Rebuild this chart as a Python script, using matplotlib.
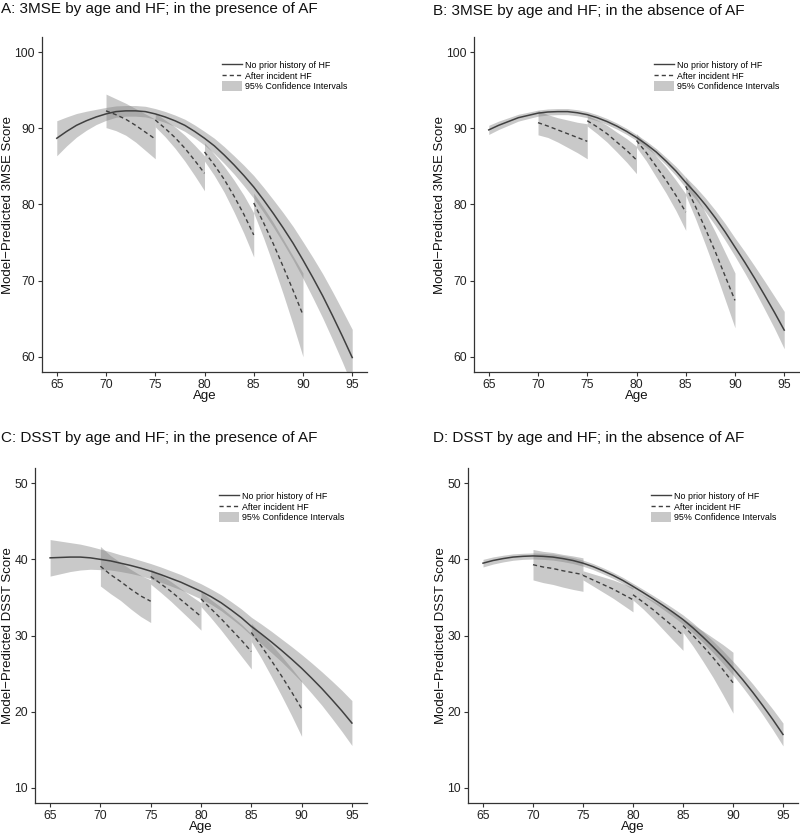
import matplotlib
matplotlib.use("Agg")
import matplotlib.pyplot as plt
from matplotlib.lines import Line2D
from matplotlib.patches import Patch

plt.rcParams["font.family"] = ["Liberation Sans", "DejaVu Sans"]

# ages (x) for the full curve and for each 5-year "after incident HF" segment
ages = list(range(65, 96))
seg_starts = [70, 75, 80, 85]

titles = [
    "A: 3MSE by age and HF; in the presence of AF",
    "B: 3MSE by age and HF; in the absence of AF",
    "C: DSST by age and HF; in the presence of AF",
    "D: DSST by age and HF; in the absence of AF",
]
ylabels = [
    "Model\u2212Predicted 3MSE Score",
    "Model\u2212Predicted 3MSE Score",
    "Model\u2212Predicted DSST Score",
    "Model\u2212Predicted DSST Score",
]
legend_labels = ["No prior history of HF", "After incident HF", "95% Confidence Intervals"]

# --- A: 3MSE, AF present ---
a_fit = [88.7, 89.6, 90.4, 91.0, 91.5, 91.9, 92.2, 92.3, 92.3, 92.2, 91.9,
         91.5, 91.0, 90.4, 89.6, 88.7, 87.7, 86.5, 85.2, 83.8, 82.3,
         80.6, 78.8, 76.9, 74.9, 72.7, 70.4, 68.0, 65.4, 62.7, 59.9]
a_half = [2.3, 1.9, 1.55, 1.25, 1.0, 0.85, 0.75, 0.7, 0.7, 0.7, 0.7,
          0.72, 0.75, 0.8, 0.85, 0.9, 1.0, 1.1, 1.2, 1.35, 1.5,
          1.65, 1.8, 2.0, 2.2, 2.4, 2.65, 2.9, 3.15, 3.4, 3.7]
a_seg_fit = [
    [92.3, 91.8, 91.2, 90.4, 89.5, 88.6],
    [91.1, 90.0, 88.8, 87.4, 85.8, 84.1],
    [86.9, 85.2, 83.3, 81.1, 78.7, 76.0],
    [80.2, 77.6, 74.8, 71.8, 68.7, 65.5],
]
a_seg_half = [
    [2.2, 2.1, 2.1, 2.2, 2.4, 2.6],
    [0.9, 1.1, 1.4, 1.7, 2.0, 2.3],
    [1.2, 1.4, 1.7, 2.1, 2.5, 2.9],
    [1.3, 2.0, 2.8, 3.6, 4.5, 5.5],
]

# --- B: 3MSE, AF absent ---
b_fit = [89.8, 90.4, 90.9, 91.4, 91.7, 92.0, 92.15, 92.2, 92.2, 92.05, 91.8,
         91.4, 90.9, 90.3, 89.6, 88.8, 87.9, 86.9, 85.7, 84.4, 82.9,
         81.5, 79.95, 78.25, 76.4, 74.4, 72.4, 70.3, 68.1, 65.85, 63.5]
b_half = [0.6, 0.55, 0.5, 0.45, 0.42, 0.4, 0.4, 0.4, 0.4, 0.4, 0.4,
          0.4, 0.4, 0.4, 0.4, 0.4, 0.42, 0.45, 0.5, 0.6, 0.7,
          0.8, 0.9, 1.0, 1.1, 1.2, 1.4, 1.6, 1.85, 2.1, 2.45]
b_seg_fit = [
    [90.75, 90.3, 89.8, 89.3, 88.8, 88.3],
    [91.0, 90.2, 89.3, 88.2, 87.1, 85.85],
    [88.4, 86.8, 85.0, 83.2, 81.2, 79.0],
    [82.4, 79.7, 76.8, 73.8, 70.6, 67.4],
]
b_seg_half = [
    [1.6, 1.5, 1.6, 1.8, 2.0, 2.3],
    [0.7, 0.9, 1.1, 1.3, 1.55, 1.8],
    [0.9, 1.1, 1.4, 1.7, 2.0, 2.4],
    [1.2, 1.6, 2.1, 2.6, 3.1, 3.6],
]

# --- C: DSST, AF present ---
c_fit = [40.2, 40.25, 40.3, 40.3, 40.2, 40.0, 39.8, 39.5, 39.2, 38.85, 38.45,
         38.0, 37.5, 37.0, 36.4, 35.8, 35.1, 34.3, 33.35, 32.35, 31.2,
         30.2, 29.15, 28.05, 26.9, 25.7, 24.4, 23.05, 21.6, 20.1, 18.5]
c_half = [2.4, 2.15, 1.9, 1.7, 1.5, 1.35, 1.2, 1.1, 1.05, 1.0, 1.0,
          1.0, 1.0, 1.0, 1.0, 1.0, 1.0, 1.05, 1.1, 1.15, 1.2,
          1.3, 1.4, 1.5, 1.65, 1.8, 2.0, 2.2, 2.45, 2.7, 2.95]
c_seg_fit = [
    [39.1, 38.0, 37.1, 36.1, 35.2, 34.5],
    [37.75, 36.8, 35.8, 34.7, 33.6, 32.5],
    [34.8, 33.5, 32.2, 30.8, 29.4, 27.9],
    [30.4, 28.6, 26.7, 24.7, 22.6, 20.4],
]
c_seg_half = [
    [2.6, 2.5, 2.5, 2.6, 2.7, 2.8],
    [1.0, 1.15, 1.3, 1.45, 1.6, 1.8],
    [1.0, 1.2, 1.5, 1.8, 2.1, 2.3],
    [1.2, 1.6, 2.1, 2.6, 3.1, 3.65],
]

# --- D: DSST, AF absent ---
d_fit = [39.5, 39.85, 40.1, 40.3, 40.4, 40.45, 40.4, 40.3, 40.1, 39.85, 39.5,
         39.05, 38.5, 37.9, 37.22, 36.45, 35.65, 34.82, 33.95, 33.05, 32.1,
         31.0, 29.8, 28.52, 27.16, 25.7, 24.15, 22.5, 20.75, 18.93, 17.0]
d_half = [0.5, 0.47, 0.44, 0.42, 0.4, 0.4, 0.4, 0.4, 0.4, 0.4, 0.4,
          0.4, 0.4, 0.4, 0.4, 0.4, 0.42, 0.45, 0.5, 0.55, 0.6,
          0.65, 0.7, 0.76, 0.83, 0.9, 1.0, 1.1, 1.2, 1.35, 1.5]
d_seg_fit = [
    [39.3, 39.0, 38.8, 38.5, 38.25, 38.0],
    [37.9, 37.3, 36.7, 36.1, 35.4, 34.7],
    [35.35, 34.4, 33.4, 32.3, 31.2, 30.05],
    [31.3, 30.0, 28.6, 27.1, 25.5, 23.8],
]
d_seg_half = [
    [2.0, 2.05, 2.1, 2.15, 2.2, 2.2],
    [0.6, 0.8, 1.0, 1.2, 1.4, 1.6],
    [0.7, 0.9, 1.2, 1.5, 1.8, 2.0],
    [0.9, 1.4, 2.0, 2.6, 3.3, 4.0],
]

panels = [
    (a_fit, a_half, a_seg_fit, a_seg_half),
    (b_fit, b_half, b_seg_fit, b_seg_half),
    (c_fit, c_half, c_seg_fit, c_seg_half),
    (d_fit, d_half, d_seg_fit, d_seg_half),
]
yticks_list = [[60, 70, 80, 90, 100]] * 2 + [[10, 20, 30, 40, 50]] * 2
ylims = [(58, 102)] * 2 + [(8, 52)] * 2

W, H = 800, 834
# pixel boxes: left, right, top, bottom
boxes = [(42, 367, 37, 372), (474, 799, 37, 372),
         (35, 367, 468, 803), (468, 798, 468, 803)]
title_pos = [(1, 9), (433, 11), (1, 438), (433, 438)]

line_col = "#404040"
band_col = "#808080"
band_alpha = 0.42

fig = plt.figure(figsize=(8, 8.34), dpi=100)

for i, (fit, half, seg_fit, seg_half) in enumerate(panels):
    l, r, t, b = boxes[i]
    ax = fig.add_axes([l / W, 1 - b / H, (r - l) / W, (b - t) / H])

    lo = [f - h for f, h in zip(fit, half)]
    hi = [f + h for f, h in zip(fit, half)]
    ax.fill_between(ages, lo, hi, color=band_col, alpha=band_alpha, linewidth=0)
    ax.plot(ages, fit, color=line_col, linewidth=1.1)

    for s, sf, sh in zip(seg_starts, seg_fit, seg_half):
        yrs = list(range(s, s + 6))
        slo = [f - h for f, h in zip(sf, sh)]
        shi = [f + h for f, h in zip(sf, sh)]
        ax.fill_between(yrs, slo, shi, color=band_col, alpha=band_alpha, linewidth=0)
        ax.plot(yrs, sf, color=line_col, linewidth=1.0, linestyle=(0, (3, 2.2)))

    ax.set_xlim(63.5, 96.5)
    ax.set_ylim(*ylims[i])
    ax.set_xticks([65, 70, 75, 80, 85, 90, 95])
    ax.set_yticks(yticks_list[i])
    for side in ["top", "right"]:
        ax.spines[side].set_visible(False)
    for side in ["left", "bottom"]:
        ax.spines[side].set_color("#333333")
        ax.spines[side].set_linewidth(0.9)
    ax.tick_params(length=3, width=0.8, color="#333333", labelsize=8.7,
                   labelcolor="#222222", pad=2)
    ax.set_xlabel("Age", fontsize=9.5, labelpad=-1, color="#111111")
    ax.set_ylabel(ylabels[i], fontsize=9.5, labelpad=0.5, color="#111111")

    handles = [
        Line2D([], [], color=line_col, linewidth=1.0),
        Line2D([], [], color=line_col, linewidth=1.0, linestyle=(0, (3, 2.2))),
        Patch(facecolor="#c8c8c8", edgecolor="none"),
    ]
    ax.legend(handles, legend_labels, loc="upper left", bbox_to_anchor=(0.555, 0.93),
              frameon=False, fontsize=6.4, handlelength=2.2, handleheight=1.3,
              handletextpad=0.4, labelspacing=0.05, borderpad=0, borderaxespad=0)

    tx, ty = title_pos[i]
    fig.text(tx / W, 1 - ty / H, titles[i], fontsize=11, ha="left", va="center",
             color="#111111")

fig.savefig("out.png", dpi=100)
